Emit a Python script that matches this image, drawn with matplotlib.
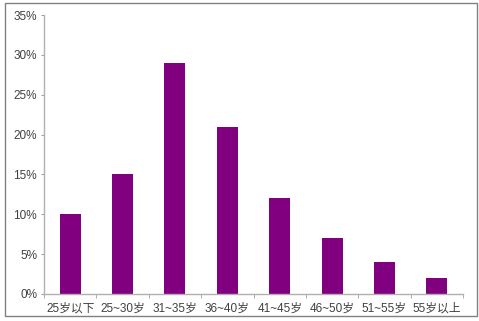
import matplotlib
matplotlib.use("Agg")
import matplotlib.pyplot as plt
from matplotlib.patches import Rectangle
from matplotlib.ticker import FixedLocator, NullFormatter

plt.rcParams['font.family'] = ['Liberation Sans', 'Noto Sans CJK SC', 'DejaVu Sans']

categories = ["25岁以下", "25~30岁", "31~35岁", "36~40岁", "41~45岁", "46~50岁", "51~55岁", "55岁以上"]
values = [10, 15, 29, 21, 12, 7, 4, 2]
yticks = [0, 5, 10, 15, 20, 25, 30, 35]
ytick_labels = ["0%", "5%", "10%", "15%", "20%", "25%", "30%", "35%"]

W, H = 479, 321
fig = plt.figure(figsize=(W/100, H/100), dpi=100)
fig.patch.set_facecolor("white")
fig.patches.append(Rectangle((5/W, 5/H), 472/W, 313/H, transform=fig.transFigure,
                             fill=False, edgecolor="#808080", linewidth=1.0))

ax = fig.add_axes([44/W, 27/H, 419/W, 279/H])
x = list(range(len(categories)))
ax.bar(x, values, width=0.4, color="#800080")
ax.set_xlim(-0.5, len(categories) - 0.5)
ax.set_ylim(0, 35)
ax.set_yticks(yticks)
ax.set_yticklabels(ytick_labels, fontsize=8.5, color="#404040")
ax.set_xticks(x)
ax.set_xticklabels(categories, fontsize=8.5, color="#404040")
ax.tick_params(axis="x", length=0, pad=6)
ax.xaxis.set_minor_locator(FixedLocator([i - 0.5 for i in range(len(categories) + 1)]))
ax.xaxis.set_minor_formatter(NullFormatter())
ax.tick_params(axis="x", which="minor", length=3, color="#a0a0a0", direction="out")
ax.tick_params(axis="y", length=2, color="#a0a0a0", direction="out", pad=3)
for s in ["top", "right"]:
    ax.spines[s].set_visible(False)
for s in ["left", "bottom"]:
    ax.spines[s].set_color("#b0b0b0")
    ax.spines[s].set_linewidth(1.0)

fig.savefig("out.png", dpi=100)
